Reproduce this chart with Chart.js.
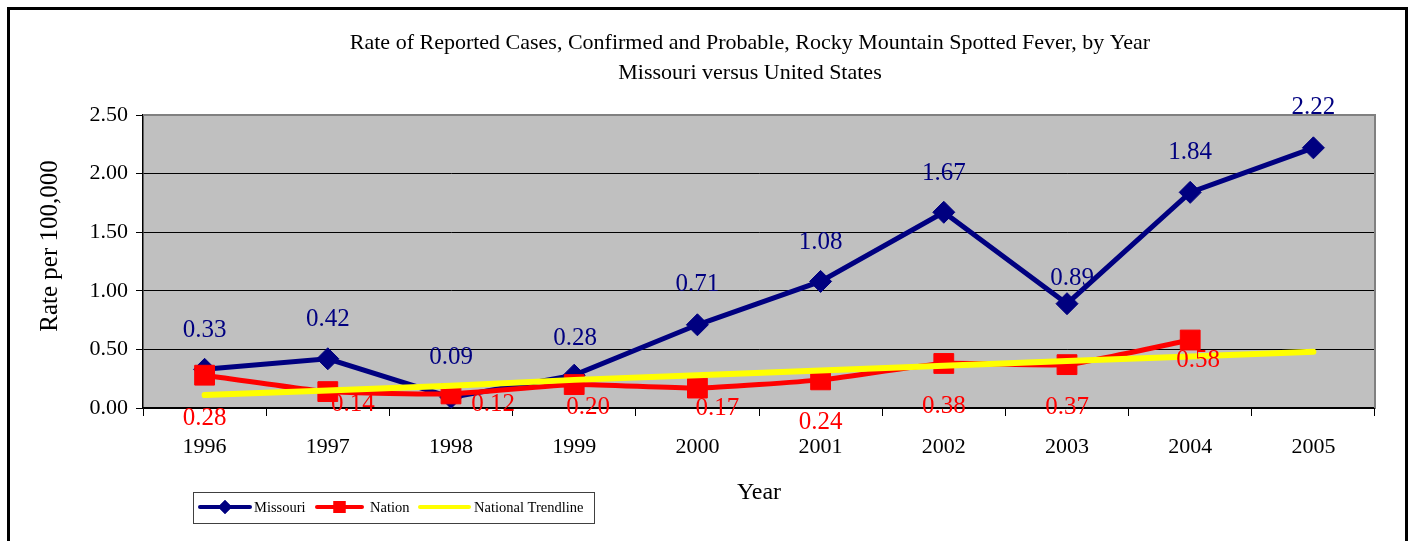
<!DOCTYPE html>
<html>
<head>
<meta charset="utf-8">
<script src="https://cdn.jsdelivr.net/npm/chart.js@4/dist/chart.umd.min.js"></script>
<style>
    body { margin: 0; background: #ffffff; }
    #wrap { width: 1411px; height: 541px; position: relative; }
</style>
</head>
<body>
<div id="wrap"><canvas id="rmsfChart" width="1411" height="541"></canvas></div>
<script>
// Dados
const years = ['1996', '1997', '1998', '1999', '2000', '2001', '2002', '2003', '2004', '2005'];
const missouriRates = [0.33, 0.42, 0.09, 0.28, 0.71, 1.08, 1.67, 0.89, 1.84, 2.22];
const nationRates = [0.28, 0.14, 0.12, 0.20, 0.17, 0.24, 0.38, 0.37, 0.58, null];
const nationTrend = [0.11, 0.15, 0.19, 0.24, 0.28, 0.32, 0.36, 0.40, 0.44, 0.48];
const yTicks = [0, 0.5, 1.0, 1.5, 2.0, 2.5];
const seriesNames = ['Missouri', 'Nation', 'National Trendline'];
const titleLines = ['Rate of Reported Cases, Confirmed and Probable, Rocky Mountain Spotted Fever, by Year',
                    'Missouri versus United States'];
const yTitle = 'Rate per 100,000';

const SERIF = "'Liberation Serif', 'Times New Roman', serif";
Chart.defaults.font.family = SERIF;
Chart.defaults.color = '#000000';

// deslocamento dos rótulos em relação ao ponto (dx, dy)
const labelShift = [
    [[0, -39], [0, -39], [0, -40], [1, -37], [0, -40], [0, -39], [0, -39], [5, -25], [0, -40], [0, -40]],
    [[0, 43], [25, 13], [42, 11], [14, 23], [20, 20], [0, 43], [0, 43], [0, 43], [8, 20], [0, 0]]
];

const frameAndPlot = {
    id: 'frameAndPlot',
    beforeDraw(chart) {
        const { ctx, chartArea: a } = chart;
        ctx.save();
        ctx.fillStyle = '#c0c0c0';
        ctx.fillRect(a.left, a.top, a.right - a.left, a.bottom - a.top);
        // moldura preta
        ctx.fillStyle = '#000000';
        ctx.fillRect(7, 7, 3, 534);
        ctx.fillRect(7, 7, 1401, 3);
        ctx.fillRect(1405, 7, 3, 534);
        // títulos
        ctx.textAlign = 'center';
        ctx.textBaseline = 'middle';
        ctx.font = '22px ' + SERIF;
        ctx.fillText(titleLines[0], 750, 43);
        ctx.fillText(titleLines[1], 750, 73);
        ctx.save();
        ctx.translate(50, 246);
        ctx.rotate(-Math.PI / 2);
        ctx.font = '25px ' + SERIF;
        ctx.fillText(yTitle, 0, 0);
        ctx.restore();
        ctx.restore();
    },
    beforeDatasetsDraw(chart) {
        const { ctx, chartArea: a } = chart;
        ctx.save();
        ctx.strokeStyle = '#808080';
        ctx.lineWidth = 2;
        ctx.beginPath();
        ctx.moveTo(a.left, a.top);
        ctx.lineTo(a.right, a.top);
        ctx.lineTo(a.right, a.bottom);
        ctx.stroke();
        ctx.restore();
    }
};

const valueLabels = {
    id: 'valueLabels',
    afterDatasetsDraw(chart) {
        const ctx = chart.ctx;
        ctx.save();
        ctx.font = '25px ' + SERIF;
        ctx.textAlign = 'center';
        ctx.textBaseline = 'middle';
        [0, 1].forEach(di => {
            const ds = chart.data.datasets[di];
            chart.getDatasetMeta(di).data.forEach((pt, i) => {
                const v = ds.data[i];
                if (v === null) return;
                const s = labelShift[di][i];
                ctx.fillStyle = ds.borderColor;
                ctx.fillText(v.toFixed(2), pt.x + s[0], pt.y + s[1]);
            });
        });
        ctx.restore();
    }
};

const boxLegend = {
    id: 'boxLegend',
    afterDraw(chart) {
        const ctx = chart.ctx;
        const items = [
            { x0: 198, x1: 252, tx: 254, style: 'rectRot', r: 7 },
            { x0: 315, x1: 364, tx: 370, style: 'rect', r: 8.5 },
            { x0: 418, x1: 471, tx: 474, style: false, r: 0 }
        ];
        const cy = 507;
        ctx.save();
        ctx.fillStyle = '#ffffff';
        ctx.fillRect(193, 492, 401, 31);
        ctx.strokeStyle = '#404040';
        ctx.lineWidth = 1;
        ctx.strokeRect(193.5, 492.5, 401, 31);
        items.forEach((it, i) => {
            const ds = chart.data.datasets[i];
            ctx.strokeStyle = ds.borderColor;
            ctx.lineWidth = 4;
            ctx.lineCap = 'round';
            ctx.beginPath();
            ctx.moveTo(it.x0 + 2, cy);
            ctx.lineTo(it.x1 - 2, cy);
            ctx.stroke();
            if (it.style) {
                ctx.fillStyle = ds.borderColor;
                Chart.helpers.drawPoint(ctx, { pointStyle: it.style, radius: it.r, rotation: 0, borderWidth: 0 }, (it.x0 + it.x1) / 2, cy);
                ctx.fill();
            }
            ctx.fillStyle = '#000000';
            ctx.font = '14.5px ' + SERIF;
            ctx.textAlign = 'left';
            ctx.textBaseline = 'middle';
            ctx.fillText(seriesNames[i], it.tx, cy + 1);
        });
        ctx.restore();
    }
};

const ctx = document.getElementById('rmsfChart').getContext('2d');
const chart = new Chart(ctx, {
    type: 'line',
    data: {
        labels: years,
        datasets: [{
            label: seriesNames[0],
            data: missouriRates,
            borderColor: '#000080',
            backgroundColor: '#000080',
            borderWidth: 5,
            pointStyle: 'rectRot',
            pointRadius: 11,
            pointBackgroundColor: '#000080',
            pointBorderColor: '#000080',
            pointBorderWidth: 1,
            tension: 0,
            order: 3
        }, {
            label: seriesNames[1],
            data: nationRates,
            borderColor: '#ff0000',
            backgroundColor: '#ff0000',
            borderWidth: 5,
            pointStyle: 'rect',
            pointRadius: 14,
            pointBackgroundColor: '#ff0000',
            pointBorderColor: '#ff0000',
            pointBorderWidth: 1,
            tension: 0.15,
            spanGaps: false,
            order: 2
        }, {
            label: seriesNames[2],
            data: nationTrend,
            borderColor: '#ffff00',
            backgroundColor: '#ffff00',
            borderWidth: 6,
            borderCapStyle: 'round',
            pointRadius: 0,
            tension: 0,
            order: 1
        }]
    },
    options: {
        responsive: false,
        animation: false,
        devicePixelRatio: 1,
        layout: { padding: { left: 0, right: 36, top: 115, bottom: 0 } },
        plugins: {
            legend: { display: false },
            tooltip: { enabled: false },
            title: { display: false }
        },
        scales: {
            x: {
                offset: true,
                afterFit: s => { s.height = 133; },
                grid: { offset: true, drawOnChartArea: false, drawTicks: true, tickLength: 8, tickColor: '#000000' },
                border: { display: true, color: '#000000', width: 1.5 },
                ticks: { font: { size: 22 }, padding: 18, color: '#000000', maxRotation: 0 },
                title: { display: true, text: 'Year', font: { size: 24 }, color: '#000000', padding: { top: 0, bottom: 34 } }
            },
            y: {
                min: 0,
                max: 2.5,
                afterFit: s => { s.width = 143; },
                afterBuildTicks: s => { s.ticks = yTicks.map(v => ({ value: v })); },
                grid: {
                    color: c => (c.tick && c.tick.value === 2.5) ? 'rgba(0,0,0,0)' : '#000000',
                    lineWidth: 1,
                    drawTicks: true,
                    tickLength: 7,
                    tickColor: '#000000'
                },
                border: { display: true, color: '#000000', width: 1.5 },
                ticks: { font: { size: 22 }, padding: 8, color: '#000000', callback: v => Number(v).toFixed(2) }
            }
        }
    },
    plugins: [frameAndPlot, valueLabels, boxLegend]
});
</script>
</body>
</html>
